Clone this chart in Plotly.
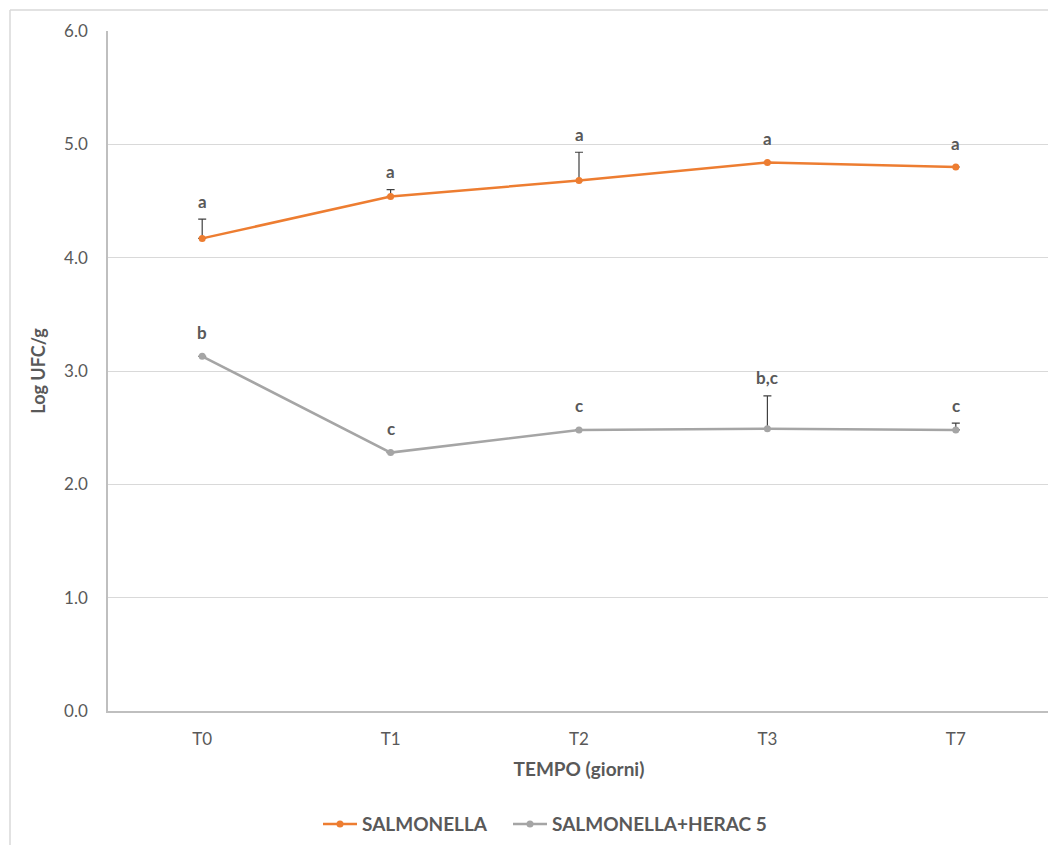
import plotly.graph_objects as go

categories = ["T0", "T1", "T2", "T3", "T7"]
salm_values = [4.17, 4.54, 4.68, 4.84, 4.80]
salm_err = [0.17, 0.06, 0.25, 0.0, 0.0]
salm_letters = ["a", "a", "a", "a", "a"]
herac_values = [3.13, 2.28, 2.48, 2.49, 2.48]
herac_err = [0.0, 0.0, 0.0, 0.29, 0.06]
herac_letters = ["b", "c", "c", "b,c", "c"]

ORANGE = "#ED7D31"
GREY = "#A5A5A5"
TXT = "#595959"
FONT = "Lato, 'Open Sans', sans-serif"

W, H = 1048, 837
ML, MR, MT = 100, 6, 23
PLOT_W = W - ML - MR
PLOT_H = 680
MB = H - MT - PLOT_H
YMAX = 6.0
PX = PLOT_H / YMAX  # pixels per unit

fig = go.Figure()
for name, vals, errs, col, leg in [("SALMONELLA", salm_values, salm_err, ORANGE, "legend"),
                                   ("SALMONELLA+HERAC 5", herac_values, herac_err, GREY, "legend2")]:
    fig.add_trace(go.Scatter(
        x=categories, y=vals, name=name, mode="lines+markers", legend=leg,
        line=dict(color=col, width=2.5),
        marker=dict(color=col, size=7),
        error_y=dict(type="data", array=errs, arrayminus=[0] * len(errs), symmetric=False,
                     color="#404040", thickness=1.2, width=4),
    ))

for vals, errs, letters in [(salm_values, salm_err, salm_letters),
                            (herac_values, herac_err, herac_letters)]:
    for c, v, e, t in zip(categories, vals, errs, letters):
        ylab = max(v + 24 / PX, v + e + 18 / PX)
        fig.add_annotation(x=c, y=ylab, text="<b>%s</b>" % t, showarrow=False,
                           font=dict(family=FONT, size=17, color=TXT),
                           xanchor="center", yanchor="middle")

legend_common = dict(orientation="h", xref="container", yref="container",
                     y=0.025, xanchor="left", yanchor="middle",
                     font=dict(family=FONT, size=19, color=TXT, weight="bold"),
                     itemwidth=34, bgcolor="rgba(0,0,0,0)")

fig.update_layout(
    width=W, height=H,
    margin=dict(l=ML, r=MR, t=MT, b=MB),
    paper_bgcolor="white", plot_bgcolor="white",
    font=dict(family=FONT, color=TXT, size=16),
    showlegend=True,
    legend=dict(x=310 / W, **legend_common),
    legend2=dict(x=500 / W, **legend_common),
    xaxis=dict(
        type="category", range=[-0.5, 4.5],
        showgrid=False, showline=True, linecolor="#BFBFBF", linewidth=1.5,
        ticks="", tickfont=dict(family=FONT, size=17, color=TXT),
        ticklabelstandoff=12,
        title=dict(text="<b>TEMPO (giorni)</b>", font=dict(family=FONT, size=19, color=TXT), standoff=15),
    ),
    yaxis=dict(
        range=[0, YMAX], dtick=1.0, tickformat=".1f",
        showgrid=True, gridcolor="#D9D9D9", gridwidth=1,
        showline=True, linecolor="#BFBFBF", linewidth=1.5,
        zeroline=False, ticks="", tickfont=dict(family=FONT, size=17, color=TXT),
        ticklabelstandoff=15,
        title=dict(text="<b>Log UFC/g</b>", font=dict(family=FONT, size=18, color=TXT), standoff=14),
    ),
)

# outer chart border (Excel chart area)
bx = (2 - ML) / PLOT_W
by = (MT + PLOT_H - 2) / PLOT_H
fig.add_shape(type="line", xref="paper", yref="paper",
              x0=bx, x1=(W + 10 - ML) / PLOT_W, y0=by, y1=by,
              line=dict(color="#D9D9D9", width=1.5))
fig.add_shape(type="line", xref="paper", yref="paper",
              x0=bx, x1=bx, y0=by, y1=-(MB + 10) / PLOT_H,
              line=dict(color="#D9D9D9", width=1.5))

fig.write_html("out.html")
